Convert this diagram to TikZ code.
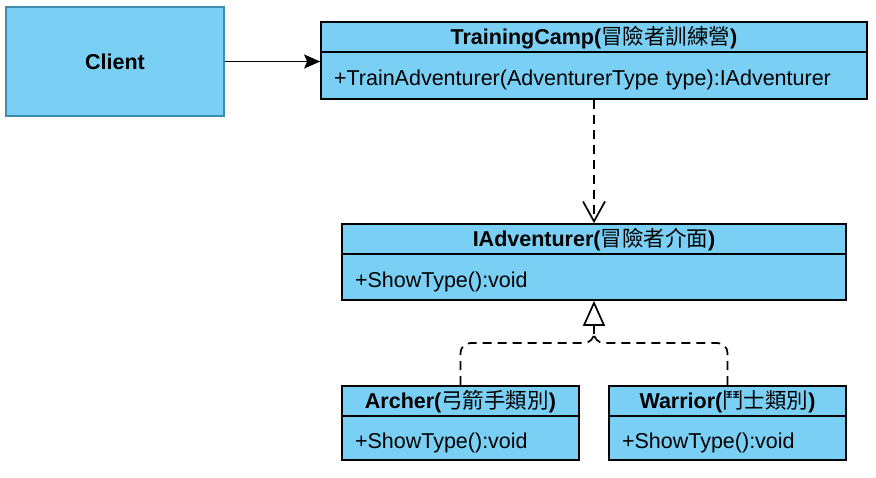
\documentclass[tikz,border=0pt]{standalone}
\usepackage{fontspec}
\setmainfont{Liberation Sans}
\newfontfamily\cjk{Noto Sans CJK TC}
\usetikzlibrary{arrows.meta}
\definecolor{boxblue}{HTML}{7ACFF4}
\definecolor{clientborder}{HTML}{3E8DB0}
\newcommand{\zh}[1]{{\cjk\mdseries #1}}
\begin{document}
\begin{tikzpicture}[x=1pt,y=-1pt,
  hdr/.style={draw=black, fill=boxblue, line width=1.7pt, inner sep=0pt,
    minimum height=30pt, text height=17pt, text depth=3pt,
    font=\bfseries\fontsize{21.5}{25}\selectfont},
  body/.style={draw=black, fill=boxblue, line width=1.7pt, inner ysep=0pt,
    inner xsep=13pt, align=left, text height=20pt, text depth=0pt,
    font=\fontsize{21.5}{25}\selectfont},
  dashline/.style={line width=1.7pt, dash pattern=on 9pt off 6pt}]
\useasboundingbox (0,0) rectangle (876,477);

% Client
\node[draw=clientborder, fill=boxblue, line width=1.7pt, minimum width=218pt,
  minimum height=109pt, inner sep=0pt, font=\bfseries\fontsize{21.5}{25}\selectfont]
  (client) at (115,61.5) {Client};

% TrainingCamp
\node[hdr, minimum width=546pt] (tcH) at (594,37) {TrainingCamp(\zh{冒險者訓練營})};
\node[body, text width=520pt, minimum height=47pt] (tcB) at (594,75.5)
  {+TrainAdventurer(AdventurerType type):IAdventurer};

% IAdventurer
\node[hdr, minimum width=504pt] (iaH) at (594,239) {IAdventurer(\zh{冒險者介面})};
\node[body, text width=478pt, minimum height=46pt] (iaB) at (594,277) {+ShowType():void};

% Archer
\node[hdr, minimum width=237pt] (arH) at (460.5,401) {Archer(\zh{弓箭手類別})};
\node[body, text width=211pt, minimum height=44pt] (arB) at (460.5,438) {+ShowType():void};

% Warrior
\node[hdr, minimum width=237pt] (waH) at (727.5,401) {Warrior(\zh{鬥士類別})};
\node[body, text width=211pt, minimum height=44pt] (waB) at (727.5,438) {+ShowType():void};

% Client -> TrainingCamp
\draw[line width=1.8pt, -{Stealth[length=16pt,width=14pt,inset=3pt]}]
  (client.east) -- (client.east -| tcB.west);

% dependency
\draw[dashline, -{Straight Barb[length=20pt,width=22pt,line width=1.7pt]}]
  (tcB.south) -- (iaH.north);

% realization
\coordinate (join) at (594,334);
\draw[dashline, rounded corners=10pt] (arH.north) -- (460.5,343) -- (594,343) -- (join);
\draw[dashline, rounded corners=10pt] (waH.north) -- (727.5,343) -- (594,343) -- (join);
\draw[line width=1.7pt, -{Triangle[open, length=25pt, width=22pt, line width=1.7pt, fill=white]}]
  (join) -- (iaB.south);
\end{tikzpicture}
\end{document}
